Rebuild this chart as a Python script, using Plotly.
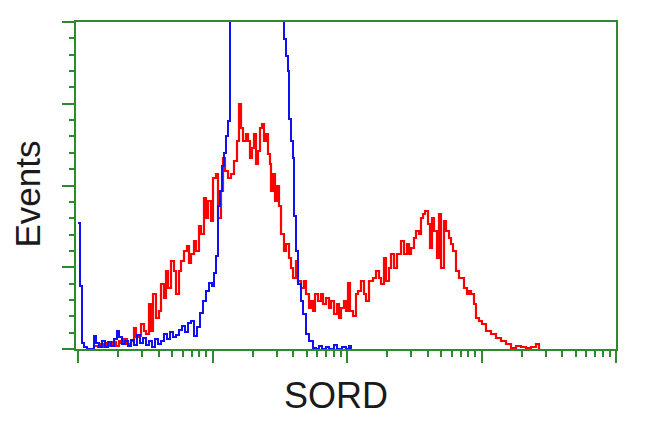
import plotly.graph_objects as go

# Channel (log-scale, 134.5 channels per decade) and event counts
blue_channel = [0, 2, 4, 6, 9, 13, 16, 18, 21, 24, 27, 30, 33, 36, 39, 41, 44, 47, 50, 53, 56, 59,
                62, 65, 68, 71, 74, 77, 80, 83, 86, 89, 92, 95, 98, 101, 104, 107, 110, 113, 116,
                119, 122, 125, 128, 131, 134, 136, 138, 140, 142, 144, 146, 148, 150, 152, 156,
                160, 164, 168, 172, 176, 180, 184, 188, 192, 196, 200, 203, 204, 206, 208, 210,
                211, 213, 215, 216, 218, 220, 223, 225, 228, 231, 235, 238, 241, 244, 248, 251,
                256, 259, 264, 268, 271, 273]
blue_counts = [126, 63, 6, 2, 0, 0, 13, 6, 2, 8, 2, 7, 3, 10, 18, 12, 5, 8, 3, 9, 4, 14,
               6, 11, 4, 8, 2, 10, 5, 8, 15, 10, 17, 12, 14, 19, 23, 17, 26, 28, 13,
               22, 36, 48, 58, 66, 63, 76, 93, 143, 158, 183, 196, 213, 228, 380, 430,
               470, 500, 520, 530, 540, 530, 510, 490, 450, 410, 370, 345, 335, 310, 293, 278,
               230, 208, 191, 133, 98, 65, 48, 35, 15, 8, 1, 0, 3, 0, 2, 0,
               4, 0, 2, 0, 3, 0]

red_channel = [16, 20, 23, 26, 29, 32, 35, 38, 41, 43, 46, 49, 53, 56, 58, 60, 63, 66, 68, 71,
               73, 75, 78, 81, 83, 86, 88, 90, 93, 96, 98, 101, 103, 106, 109, 111, 113, 116,
               118, 121, 123, 126, 128, 130, 133, 135, 138, 140, 143, 145, 147, 150, 153, 156,
               159, 161, 163, 165, 168, 170, 172, 174, 176, 178, 180, 182, 184, 186, 188, 190,
               192, 193, 195, 197, 199, 201, 203, 206, 208, 211, 213, 215, 218, 220, 223, 226,
               228, 231, 233, 235, 237, 240, 243, 245, 248, 251, 253, 256, 259, 261, 263, 266,
               268, 270, 272, 275, 278, 280, 283, 286, 288, 291, 295, 298, 301, 303, 306, 308,
               311, 313, 316, 319, 323, 326, 329, 331, 333, 336, 338, 341, 343, 345, 347, 350,
               352, 354, 356, 359, 361, 363, 366, 368, 371, 373, 375, 378, 381, 384, 386, 389,
               391, 393, 396, 398, 401, 404, 408, 413, 418, 423, 428, 433, 438, 443, 448, 453,
               458, 461]
red_counts = [3, 2, 5, 2, 6, 3, 7, 3, 8, 6, 10, 5, 8, 21, 12, 13, 25, 18, 15, 45,
              18, 55, 31, 38, 65, 51, 78, 61, 88, 78, 55, 78, 88, 98, 103, 86, 95, 108,
              98, 123, 115, 151, 131, 148, 128, 171, 175, 131, 158, 191, 178, 171, 175, 188,
              208, 245, 221, 208, 215, 208, 191, 201, 215, 185, 198, 221, 225, 208, 215, 195,
              185, 158, 175, 148, 163, 143, 115, 98, 105, 91, 81, 71, 88, 68, 61, 68,
              55, 41, 48, 38, 55, 48, 55, 45, 51, 41, 48, 35, 45, 31, 41, 48,
              38, 66, 38, 33, 55, 58, 68, 55, 48, 68, 71, 78, 71, 65, 91, 68,
              81, 95, 81, 95, 108, 95, 105, 95, 101, 111, 118, 115, 131, 135, 138, 125,
              101, 131, 118, 91, 135, 81, 128, 118, 111, 105, 98, 78, 71, 71, 61, 55,
              58, 55, 45, 31, 28, 25, 18, 15, 11, 8, 5, 1, 3, 2, 1, 2,
              5, 0]

CH_PER_DECADE = 134.5
GREEN = "#2f8a2f"

blue_x = [10 ** (c / CH_PER_DECADE) for c in blue_channel]
red_x = [10 ** (c / CH_PER_DECADE) for c in red_channel]

fig = go.Figure()
fig.add_trace(go.Scatter(x=red_x, y=red_counts, mode="lines", line_shape="hv",
                         line=dict(color="#ff0000", width=2.2), showlegend=False))
fig.add_trace(go.Scatter(x=blue_x, y=blue_counts, mode="lines", line_shape="hv",
                         line=dict(color="#1010f0", width=2), showlegend=False))

major_x = [1, 10, 100, 1000, 10000]
minor_x = [m * 10 ** k for k in range(4) for m in range(2, 10)]

fig.update_xaxes(type="log", range=[-2 / CH_PER_DECADE, 4],
                 showline=True, linecolor=GREEN, linewidth=2, mirror=True,
                 showgrid=False, zeroline=False, showticklabels=False,
                 ticks="outside", tickvals=major_x, ticklen=12, tickwidth=2, tickcolor=GREEN,
                 minor=dict(tickvals=minor_x, ticks="outside", ticklen=6, tickwidth=2,
                            tickcolor=GREEN, showgrid=False))
fig.update_yaxes(range=[0, 327],
                 showline=True, linecolor=GREEN, linewidth=2, mirror=True,
                 showgrid=False, zeroline=False, showticklabels=False,
                 ticks="outside", tick0=0, dtick=81.75, ticklen=12, tickwidth=2, tickcolor=GREEN,
                 minor=dict(tick0=0, dtick=16.35, ticks="outside", ticklen=5, tickwidth=2,
                            tickcolor=GREEN, showgrid=False))

fig.add_annotation(text="Events", xref="paper", yref="paper", x=-0.0915, y=0.474,
                   xanchor="center", yanchor="middle", textangle=-90, showarrow=False,
                   font=dict(family="Liberation Sans, Arial", size=35, color="#1a1a1a"))
fig.add_annotation(text="SORD", xref="paper", yref="paper", x=0.4815, y=-0.141,
                   xanchor="center", yanchor="middle", showarrow=False,
                   font=dict(family="Liberation Sans, Arial", size=36, color="#1a1a1a"))

fig.update_layout(width=650, height=431, margin=dict(l=68, r=42, t=14, b=90),
                  plot_bgcolor="white", paper_bgcolor="white")

fig.write_html("out.html")
